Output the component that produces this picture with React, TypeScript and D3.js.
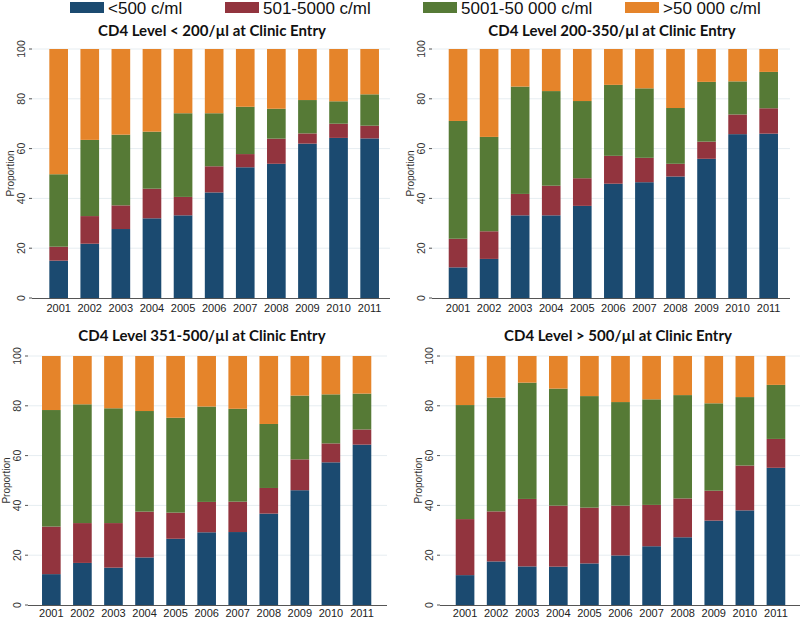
import React from "react";
import * as d3 from "d3";

const YEARS = ["2001", "2002", "2003", "2004", "2005", "2006", "2007", "2008", "2009", "2010", "2011"];

const SERIES = ["<500 c/ml", "501-5000 c/ml", "5001-50 000 c/ml", ">50 000 c/ml"];
const COLORS = ["#1b4a70", "#92343e", "#567a36", "#e5842a"];

const Y_TICKS = [0, 20, 40, 60, 80, 100];

// cumulative tops of the first three segments (the last one always reaches 100)
const CD4_LT200_BLUE = [15.0, 21.8, 27.7, 32.0, 33.2, 42.4, 52.5, 53.9, 62.0, 64.3, 64.1];
const CD4_LT200_RED = [20.6, 32.9, 37.2, 43.9, 40.6, 52.9, 57.8, 64.0, 66.1, 70.0, 69.2];
const CD4_LT200_GREEN = [49.7, 63.5, 65.6, 66.8, 74.2, 74.2, 76.8, 76.0, 79.5, 79.0, 81.8];

const CD4_200_350_BLUE = [12.3, 15.7, 33.2, 33.2, 37.0, 45.9, 46.5, 48.8, 55.9, 65.8, 66.0];
const CD4_200_350_RED = [23.8, 26.8, 41.8, 45.1, 48.1, 57.1, 56.3, 53.9, 62.8, 73.7, 76.2];
const CD4_200_350_GREEN = [71.1, 64.7, 84.9, 83.1, 79.1, 85.6, 84.2, 76.3, 86.8, 87.0, 90.8];

const CD4_351_500_BLUE = [12.4, 16.9, 15.0, 19.1, 26.6, 29.2, 29.3, 36.7, 46.1, 57.3, 64.4];
const CD4_351_500_RED = [31.5, 32.9, 32.9, 37.5, 37.1, 41.4, 41.5, 47.0, 58.5, 64.9, 70.5];
const CD4_351_500_GREEN = [78.3, 80.6, 79.0, 77.9, 75.2, 79.7, 78.8, 72.7, 84.1, 84.6, 84.9];

const CD4_GT500_BLUE = [12.0, 17.5, 15.5, 15.4, 16.7, 19.9, 23.6, 27.2, 33.9, 38.0, 55.1];
const CD4_GT500_RED = [34.5, 37.6, 42.6, 39.9, 39.1, 39.9, 40.2, 42.8, 45.9, 56.0, 66.7];
const CD4_GT500_GREEN = [80.3, 83.3, 89.3, 86.9, 83.9, 81.5, 82.6, 84.3, 81.0, 83.5, 88.4];

const PANELS = [
  {
    title: "CD4 Level < 200/µl at Clinic Entry",
    tops: [CD4_LT200_BLUE, CD4_LT200_RED, CD4_LT200_GREEN],
    axisX: 32, right: 390, barRange: [40, 388.3], top: 49, bottom: 298, titleX: 212, titleY: 36, labelDy: 14,
  },
  {
    title: "CD4 Level 200-350/µl at Clinic Entry",
    tops: [CD4_200_350_BLUE, CD4_200_350_RED, CD4_200_350_GREEN],
    axisX: 432, right: 790, barRange: [439.4, 787.3], top: 49, bottom: 298, titleX: 612, titleY: 36, labelDy: 14,
  },
  {
    title: "CD4 Level 351-500/µl at Clinic Entry",
    tops: [CD4_351_500_BLUE, CD4_351_500_RED, CD4_351_500_GREEN],
    axisX: 28, right: 387, barRange: [32.7, 380.6], top: 356, bottom: 605, titleX: 202, titleY: 341, labelDy: 12,
  },
  {
    title: "CD4 Level > 500/µl at Clinic Entry",
    tops: [CD4_GT500_BLUE, CD4_GT500_RED, CD4_GT500_GREEN],
    axisX: 440, right: 800, barRange: [446.4, 794.6], top: 356, bottom: 605, titleX: 618, titleY: 341, labelDy: 12,
  },
];

const LEGEND_X = [70, 225, 423, 625];

function Panel({ panel }) {
  const x = d3.scaleBand().domain(YEARS).range(panel.barRange).paddingInner(0.4).paddingOuter(0.3);
  const y = d3.scaleLinear().domain([0, 100]).range([panel.bottom, panel.top]);

  const rows = YEARS.map((year, i) => {
    const cum = [0, panel.tops[0][i], panel.tops[1][i], panel.tops[2][i], 100];
    return { year, cum };
  });

  return (
    <g>
      <text
        x={panel.titleX}
        y={panel.titleY}
        textAnchor="middle"
        fontFamily="Lato, 'Open Sans', sans-serif"
        fontWeight="bold"
        fontSize={15}
        fill="#111"
      >
        {panel.title}
      </text>
      {Y_TICKS.map((t) => (
        <g key={t}>
          {t > 0 && (
            <line x1={panel.axisX} x2={panel.right} y1={y(t)} y2={y(t)} stroke="#e6edf1" strokeWidth={1} />
          )}
          <line x1={panel.axisX - 3} x2={panel.axisX} y1={y(t)} y2={y(t)} stroke="#555" strokeWidth={1} />
          <text
            transform={`translate(${panel.axisX - 7},${y(t)}) rotate(-90)`}
            textAnchor="middle"
            fontFamily="'Liberation Sans', Arial, sans-serif"
            fontSize={10.5}
            fill="#333"
          >
            {t}
          </text>
        </g>
      ))}
      <text
        transform={`translate(${panel.axisX - 18},${(panel.top + panel.bottom) / 2}) rotate(-90)`}
        textAnchor="middle"
        fontFamily="'Liberation Sans', Arial, sans-serif"
        fontSize={10}
        fill="#333"
      >
        Proportion
      </text>
      {rows.map((r) =>
        SERIES.map((s, k) => (
          <rect
            key={r.year + s}
            x={x(r.year)}
            width={x.bandwidth()}
            y={y(r.cum[k + 1])}
            height={y(r.cum[k]) - y(r.cum[k + 1])}
            fill={COLORS[k]}
          />
        ))
      )}
      <line x1={panel.axisX} x2={panel.right} y1={panel.bottom + 0.5} y2={panel.bottom + 0.5} stroke="#555" strokeWidth={1} />
      {YEARS.map((year) => (
        <text
          key={year}
          x={x(year) + x.bandwidth() / 2}
          y={panel.bottom + panel.labelDy}
          textAnchor="middle"
          fontFamily="'Liberation Sans', Arial, sans-serif"
          fontSize={11}
          fill="#222"
        >
          {year}
        </text>
      ))}
    </g>
  );
}

export default function App() {
  return (
    <svg width={800} height={619} style={{ position: "absolute", left: 0, top: 0, background: "#fff" }}>
      <rect width={800} height={619} fill="#fff" />
      {SERIES.map((s, k) => (
        <g key={s}>
          <rect x={LEGEND_X[k]} y={2} width={34} height={11} fill={COLORS[k]} />
          <text
            x={LEGEND_X[k] + 38}
            y={14}
            fontFamily="'Liberation Sans', Arial, sans-serif"
            fontSize={17}
            fill="#111"
          >
            {s}
          </text>
        </g>
      ))}
      {PANELS.map((p) => (
        <Panel key={p.title} panel={p} />
      ))}
    </svg>
  );
}
